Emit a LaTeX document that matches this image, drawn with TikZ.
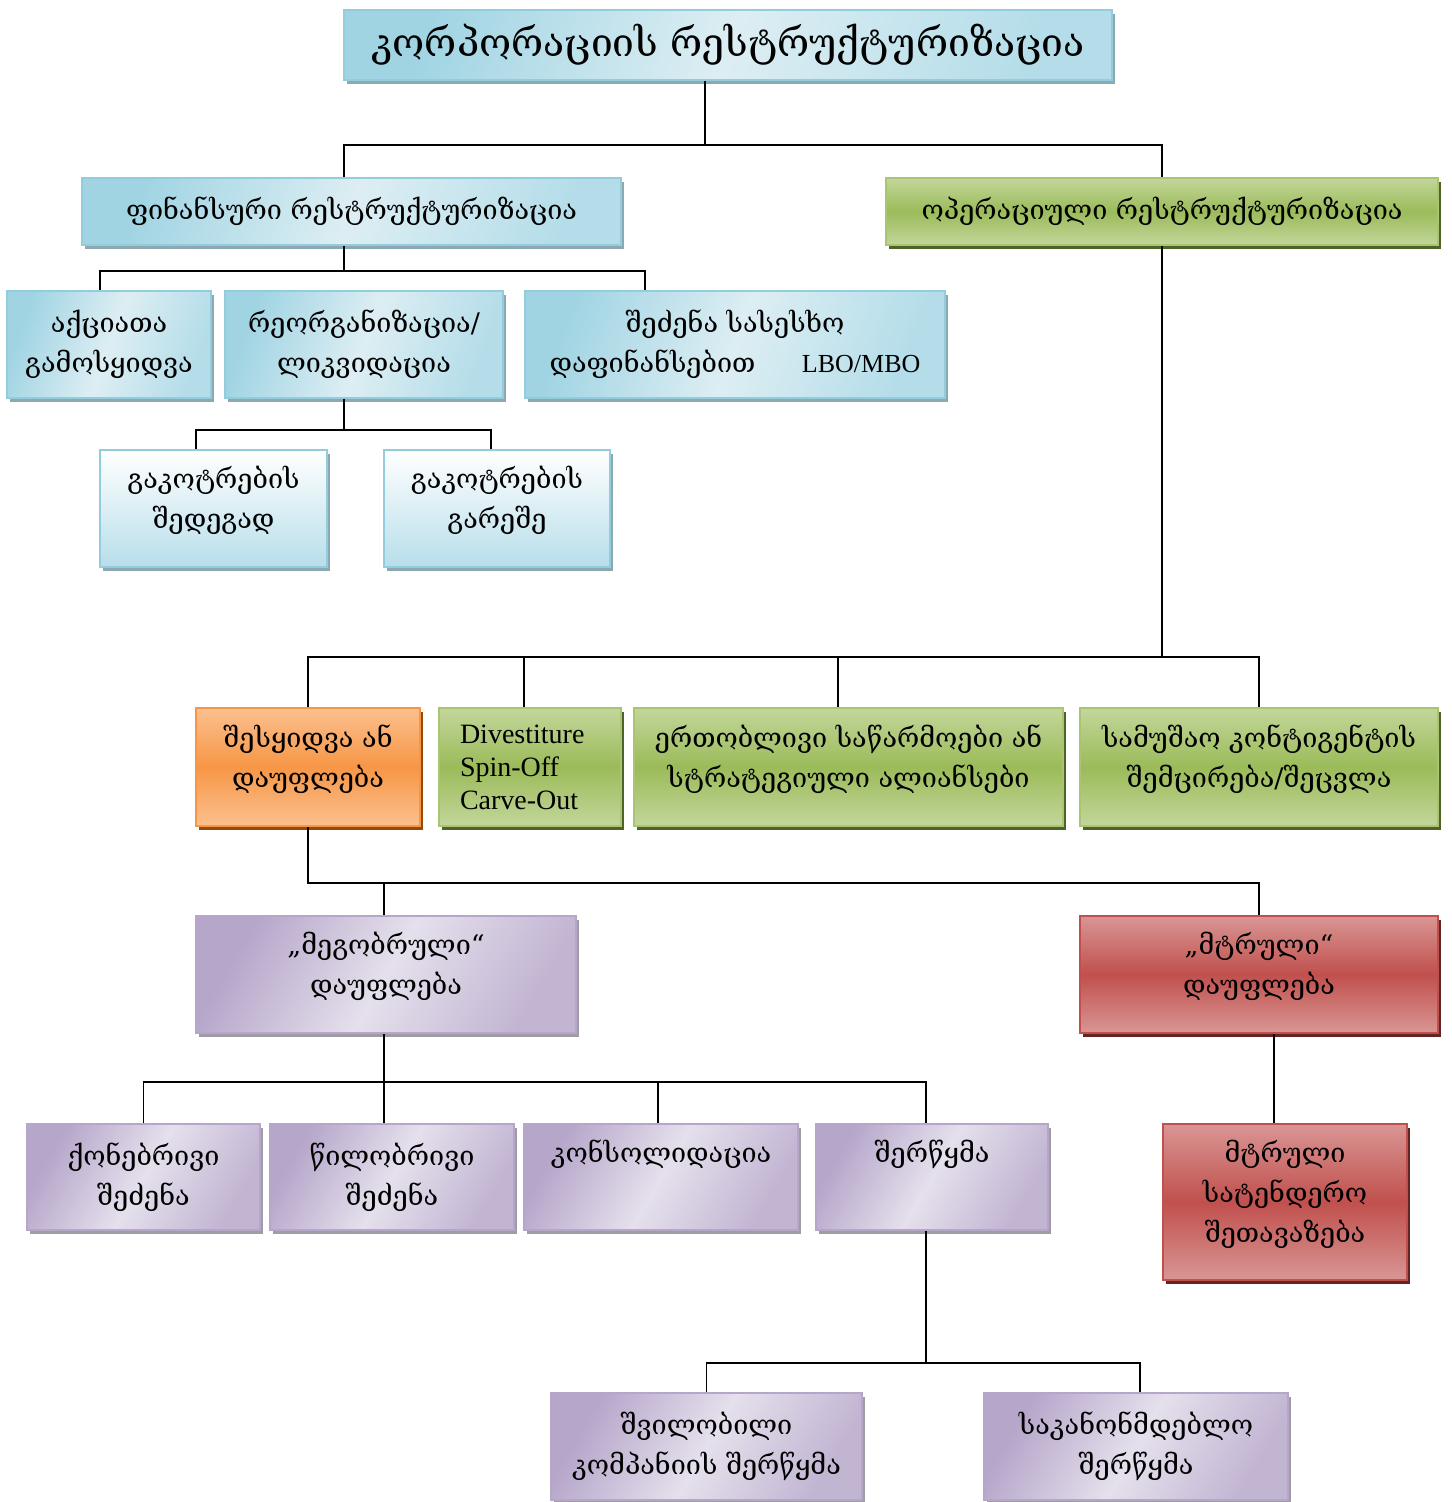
\documentclass[tikz,border=0pt]{standalone}
\usepackage{fontspec}
\setmainfont{Liberation Serif}
\newfontfamily\geo{DejaVu Serif}
\usepackage{tikz}
\usetikzlibrary{shadows}
\definecolor{blaurand}{RGB}{146,205,221}
\definecolor{blaudunkel}{RGB}{160,212,227}
\definecolor{blauhell}{RGB}{221,238,243}
\definecolor{blaumittel}{RGB}{180,221,233}
\definecolor{blauunten}{RGB}{183,222,234}
\definecolor{blauschatten}{RGB}{142,168,178}
\definecolor{gruenhell}{RGB}{195,214,155}
\definecolor{gruendunkel}{RGB}{155,187,89}
\definecolor{gruenschatten}{RGB}{79,98,40}
\definecolor{orangehell}{RGB}{251,192,143}
\definecolor{orangedunkel}{RGB}{247,150,70}
\definecolor{orangeschatten}{RGB}{152,72,7}
\definecolor{lilahell}{RGB}{229,224,236}
\definecolor{liladunkel}{RGB}{182,166,202}
\definecolor{lilaschatten}{RGB}{160,156,166}
\definecolor{rothell}{RGB}{217,150,148}
\definecolor{rotdunkel}{RGB}{192,80,77}
\definecolor{rotschatten}{RGB}{99,37,35}

\begin{document}
\begin{tikzpicture}[x=0.5pt,y=-0.5pt,
	kasten/.style={rectangle, inner sep=0pt, align=center, line width=1pt, text=black, font=\geo\fontsize{13.5}{20}\selectfont},
	blau/.style={kasten, draw=blaurand, left color=blaudunkel, right color=blaumittel, middle color=blauhell, shading angle=70, drop shadow={shadow xshift=1.5pt, shadow yshift=-2pt, fill=blauschatten, opacity=1}},
	blauweiss/.style={kasten, draw=blaurand, top color=white, bottom color=blauunten, drop shadow={shadow xshift=1.5pt, shadow yshift=-2pt, fill=blauschatten, opacity=1}},
	gruen/.style={kasten, draw=gruendunkel!85!white, top color=gruenhell, bottom color=gruenhell, middle color=gruendunkel, drop shadow={shadow xshift=1.5pt, shadow yshift=-2pt, fill=gruenschatten, opacity=1}},
	orangekasten/.style={kasten, draw=orangedunkel, top color=orangehell, bottom color=orangehell, middle color=orangedunkel, drop shadow={shadow xshift=1.5pt, shadow yshift=-2pt, fill=orangeschatten, opacity=1}},
	lila/.style={kasten, draw=liladunkel, left color=liladunkel, right color=liladunkel!75!lilahell, middle color=lilahell, shading angle=60, drop shadow={shadow xshift=1.5pt, shadow yshift=-2pt, fill=lilaschatten, opacity=1}},
	rot/.style={kasten, draw=rotdunkel, top color=rothell, bottom color=rothell, middle color=rotdunkel, drop shadow={shadow xshift=1.5pt, shadow yshift=-2pt, fill=rotschatten, opacity=1}},
	linie/.style={line width=0.65pt}]
	\useasboundingbox (0,0) rectangle (1451,1502);
	\node[name=title, blau, minimum width=384pt, minimum height=35pt, font=\geo\fontsize{19.5}{24}\selectfont] at (728,45) {კორპორაციის რესტრუქტურიზაცია};
	\node[name=fin, blau, minimum width=269.5pt, minimum height=33.5pt] at (351.5,211.5) {ფინანსური რესტრუქტურიზაცია};
	\node[name=oper, gruen, minimum width=276pt, minimum height=33.5pt] at (1162,211.5) {ოპერაციული რესტრუქტურიზაცია};
	\node[name=aqc, blau, minimum width=102pt, minimum height=53.5pt] at (109,344.5) {აქციათა\\გამოსყიდვა};
	\node[name=reorg, blau, minimum width=139pt, minimum height=53.5pt] at (364,344.5) {რეორგანიზაცია/\\ლიკვიდაცია};
	\node[name=lbo, blau, minimum width=210pt, minimum height=53.5pt] at (735,344.5) {შეძენა სასესხო\\დაფინანსებით\hspace{19pt} {\rmfamily\fontsize{13}{20}\selectfont LBO/MBO}};
	\node[name=gak1, blauweiss, minimum width=113.5pt, minimum height=58.5pt] at (213.5,508.5) {გაკოტრების\\შედეგად\\[-9pt]};
	\node[name=gak2, blauweiss, minimum width=113pt, minimum height=58.5pt] at (497,508.5) {გაკოტრების\\გარეშე\\[-9pt]};
	\node[name=shes, orangekasten, minimum width=112pt, minimum height=59pt] at (308,767) {შესყიდვა ან\\დაუფლება\\[-9pt]};
	\node[name=div, gruen, minimum width=91pt, minimum height=59pt, text width=70pt, align=left, font=\rmfamily\fontsize{14}{16.5}\selectfont] at (530,767) {Divestiture\\Spin-Off\\Carve-Out};
	\node[name=ert, gruen, minimum width=214.5pt, minimum height=59pt] at (848.5,767) {ერთობლივი საწარმოები ან\\სტრატეგიული ალიანსები\\[-9pt]};
	\node[name=sam, gruen, minimum width=179pt, minimum height=59pt] at (1259,767) {სამუშაო კონტიგენტის\\შემცირება/შეცვლა\\[-9pt]};
	\node[name=meg, lila, minimum width=190pt, minimum height=58.5pt] at (386,974.5) {„მეგობრული“\\დაუფლება\\[-9pt]};
	\node[name=mtr, rot, minimum width=179pt, minimum height=58.5pt] at (1259,974.5) {„მტრული“\\დაუფლება\\[-9pt]};
	\node[name=qon, lila, minimum width=116.5pt, minimum height=53pt] at (143.5,1177) {ქონებრივი\\შეძენა};
	\node[name=wil, lila, minimum width=122pt, minimum height=53pt] at (392,1177) {წილობრივი\\შეძენა};
	\node[name=kon, lila, minimum width=137pt, minimum height=53pt] at (661,1177) {კონსოლიდაცია\\[6pt]};
	\node[name=sher, lila, minimum width=116pt, minimum height=53pt] at (932,1177) {შერწყმა\\[6pt]};
	\node[name=tend, rot, minimum width=122pt, minimum height=78pt] at (1285,1202) {მტრული\\სატენდერო\\შეთავაზება\\[-9pt]};
	\node[name=shvil, lila, minimum width=155.5pt, minimum height=53.5pt] at (706.5,1446.5) {შვილობილი\\კომპანიის შერწყმა};
	\node[name=sakan, lila, minimum width=152pt, minimum height=53.5pt] at (1136,1446.5) {საკანონმდებლო\\შერწყმა};
	\coordinate (b1) at (705,145);
	\draw[linie] ([xshift=-11.5pt]title.south) -- (b1);
	\draw[linie] ([xshift=-3.75pt]fin.north) |- (b1) -| (oper.north);
	\coordinate (b2) at (344,271);
	\draw[linie] ([xshift=-3.75pt]fin.south) -- (b2);
	\draw[linie] ([xshift=-4.5pt]aqc.north) |- (b2) -| ([xshift=-45pt]lbo.north);
	\coordinate (b3) at (344,430);
	\draw[linie] ([xshift=-10pt]reorg.south) -- (b3);
	\draw[linie] ([xshift=-8.75pt]gak1.north) |- (b3) -| ([xshift=-3pt]gak2.north);
	\coordinate (b4) at (1162,657);
	\draw[linie] (oper.south) -- (b4);
	\draw[linie] (shes.north) |- (b4) -| (sam.north);
	\draw[linie] ([xshift=-3pt]div.north) -- ([xshift=-3pt]div.north |- b4);
	\draw[linie] ([xshift=-5.25pt]ert.north) -- ([xshift=-5.25pt]ert.north |- b4);
	\coordinate (b5) at (308,883);
	\draw[linie] (shes.south) -- (b5) -| (mtr.north);
	\draw[linie] ([xshift=-1pt]meg.north) -- ([xshift=-1pt]meg.north |- b5);
	\coordinate (b6) at (384,1082);
	\draw[linie] ([xshift=-1pt]meg.south) -- ([xshift=-4pt]wil.north);
	\draw[linie] (qon.north) |- (b6) -| ([xshift=-3pt]sher.north);
	\draw[linie] ([xshift=-1.5pt]kon.north) -- ([xshift=-1.5pt]kon.north |- b6);
	\draw[linie] ([xshift=7.5pt]mtr.south) -- ([xshift=7.5pt]mtr.south |- tend.north);
	\coordinate (b7) at (926,1363);
	\draw[linie] ([xshift=-3pt]sher.south) -- (b7);
	\draw[linie] (shvil.north) |- (b7) -| ([xshift=2pt]sakan.north);
\end{tikzpicture}
\end{document}
